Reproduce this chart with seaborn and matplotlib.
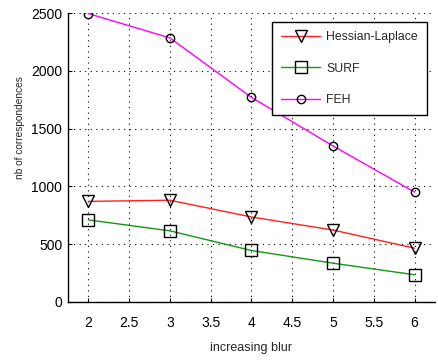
import matplotlib
matplotlib.use("Agg")
import matplotlib.pyplot as plt
import seaborn as sns
import pandas as pd

blur = [2, 3, 4, 5, 6]
hessian_laplace = [870, 880, 735, 622, 465]
surf = [710, 615, 445, 335, 235]
feh = [2495, 2285, 1770, 1350, 950]

x_ticks = [2, 2.5, 3, 3.5, 4, 4.5, 5, 5.5, 6]
x_tick_labels = ["2", "2.5", "3", "3.5", "4", "4.5", "5", "5.5", "6"]
y_ticks = [0, 500, 1000, 1500, 2000, 2500]
y_tick_labels = ["0", "500", "1000", "1500", "2000", "2500"]

sns.set_style("white")
plt.rcParams["font.family"] = ["Liberation Sans", "DejaVu Sans"]

series = [
    ("Hessian-Laplace", hessian_laplace, "#ff2020", "v", 9),
    ("SURF", surf, "#119911", "s", 9),
    ("FEH", feh, "#ff00ff", "o", 6),
]

fig = plt.figure(figsize=(4.38, 3.62), dpi=100)
ax = fig.add_axes([0.155, 0.166, 0.838, 0.798])

for name, vals, color, marker, msize in series:
    df = pd.DataFrame({"blur": blur, "n": vals})
    sns.lineplot(data=df, x="blur", y="n", ax=ax, color=color, linewidth=1.0,
                 marker=marker, markersize=msize, markerfacecolor="none",
                 markeredgecolor="black", markeredgewidth=1.0, label=name)

ax.set_xlim(1.75, 6.25)
ax.set_ylim(0, 2500)
ax.set_xticks(x_ticks)
ax.set_xticklabels(x_tick_labels)
ax.set_yticks(y_ticks)
ax.set_yticklabels(y_tick_labels)
ax.grid(True, color="black", linestyle=(0, (1, 4)), linewidth=0.8)
ax.tick_params(direction="in", length=3, width=0.8, labelsize=10, colors="black",
               bottom=True, left=True)
ax.tick_params(axis="x", pad=10)
ax.tick_params(axis="y", pad=4)
for side in ("top", "right"):
    ax.spines[side].set_visible(False)
for side in ("left", "bottom"):
    ax.spines[side].set_color("black")
    ax.spines[side].set_linewidth(1.0)

ax.set_xlabel("increasing blur", fontsize=9, labelpad=9)
ax.set_ylabel("nb of correspondences", fontsize=7.3, va="center")
ax.yaxis.set_label_coords(-0.13, 0.605)

leg = ax.legend(loc="upper left", bbox_to_anchor=(0.556, 0.969), fontsize=8.8,
                frameon=True, fancybox=False, framealpha=1, edgecolor="black",
                handlelength=3.2, handletextpad=0.5, labelspacing=1.6,
                borderpad=0.75, borderaxespad=0)
leg.get_frame().set_linewidth(1.0)

fig.savefig("out.png", dpi=100)
